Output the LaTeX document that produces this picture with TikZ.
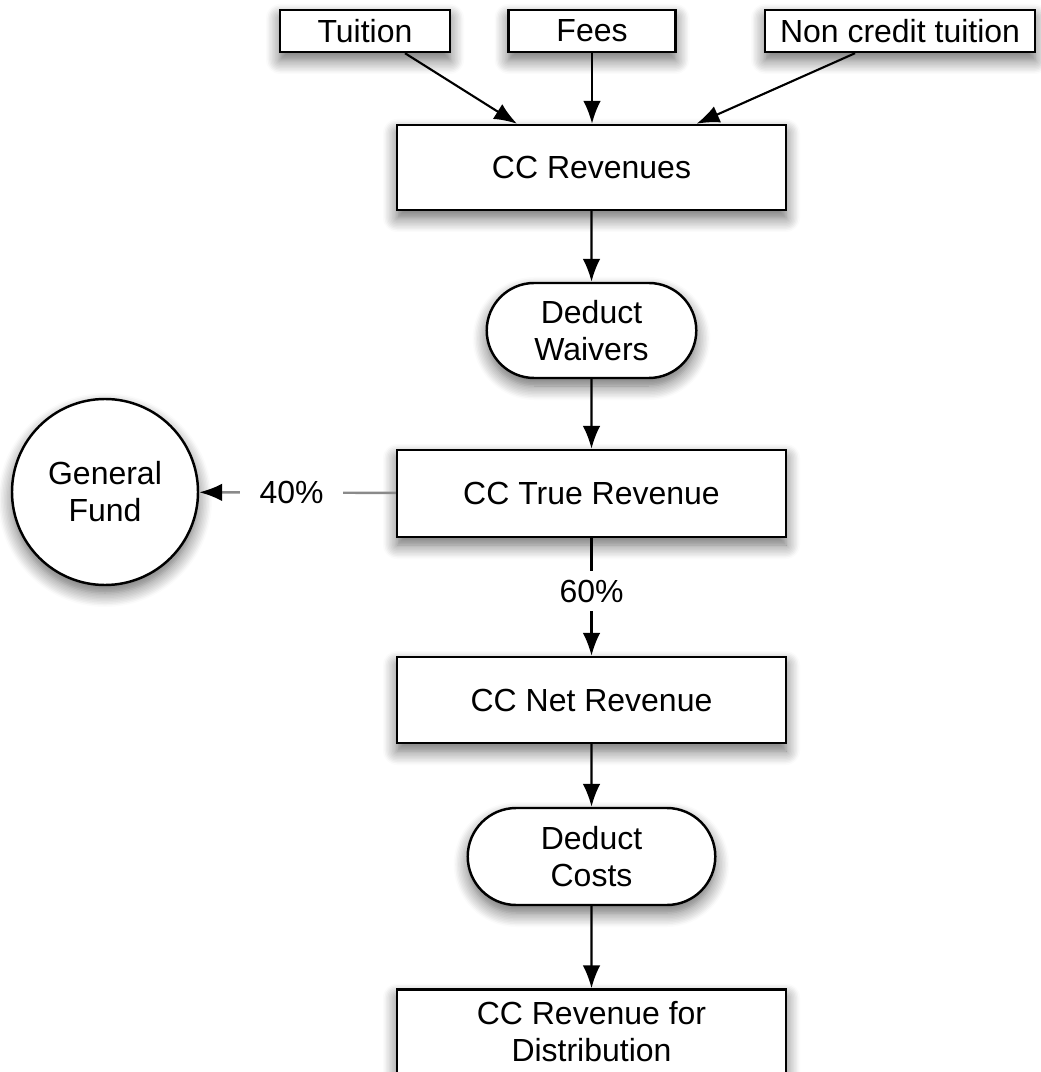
\documentclass[tikz,border=0pt]{standalone}
\usepackage{fontspec}
\setmainfont{Liberation Sans}
\usepackage{tikz}
\usetikzlibrary{arrows.meta, positioning, calc, shapes.misc, shadows.blur}
\definecolor{linegray}{HTML}{8A8A8A}

\begin{document}
\begin{tikzpicture}[
  shade/.style={blur shadow={shadow xshift=0pt, shadow yshift=-0.8mm,
    shadow blur radius=1.4mm, shadow blur steps=10, shadow opacity=60}},
  src/.style={draw, fill=white, shade, minimum height=0.42cm, inner sep=1pt,
    font=\fontsize{9.1}{10.5}\selectfont, line width=0.7pt},
  box/.style={draw, fill=white, shade, minimum width=3.89cm,
    minimum height=0.85cm, align=center,
    font=\fontsize{9.1}{10.5}\selectfont, line width=0.7pt},
  proc/.style={rounded rectangle, draw, fill=white, shade, align=center,
    font=\fontsize{9.1}{10.5}\selectfont, line width=0.7pt},
  arr/.style={-{Latex[length=6.5pt, width=5pt]}, line width=0.6pt},
  pct/.style={fill=white, font=\fontsize{9.1}{10.5}\selectfont}
]
  \useasboundingbox (0, 0) rectangle (10.40, -10.72);

  % Sources
  \node[src, minimum width=1.70cm] (tuition) at (3.65, -0.31) {Tuition};
  \node[src, minimum width=1.67cm] (fees) at (5.92, -0.31) {Fees};
  \node[src, minimum width=2.70cm] (noncredit) at (9.00, -0.31)
    {Non credit tuition};

  % Main chain
  \node[box] (revenues) at (5.915, -1.675) {CC Revenues};
  \node[proc, minimum width=2.33cm, minimum height=0.95cm] (waivers)
    at (5.915, -3.305) {Deduct\\Waivers};
  \node[box, minimum height=0.87cm] (truerev) at (5.915, -4.935)
    {CC True Revenue};
  \node[box, minimum height=0.86cm] (netrev) at (5.915, -7.00)
    {CC Net Revenue};
  \node[proc, minimum width=2.71cm, minimum height=0.97cm] (costs)
    at (5.915, -8.565) {Deduct\\Costs};
  \node[box] (distrib) at (5.915, -10.32) {CC Revenue for\\Distribution};

  % General fund
  \node[circle, draw, fill=white, shade, minimum size=1.86cm, align=center,
    font=\fontsize{9.1}{10.5}\selectfont, line width=0.7pt] (gfund)
    at (1.05, -4.92) {General\\Fund};

  % Arrows
  \draw[arr] ([xshift=4mm]tuition.south) -- ([xshift=-7.45mm]revenues.north);
  \draw[arr] (fees.south) -- (fees.south |- revenues.north);
  \draw[arr] ([xshift=-4.5mm]noncredit.south) -- ([xshift=10.5mm]revenues.north);
  \draw[arr] (revenues) -- (waivers);
  \draw[arr] (waivers) -- (truerev);
  \draw[arr] (truerev) -- node[pct, inner sep=2.5pt, pos=0.45] {60\%} (netrev);
  \draw[arr] (netrev) -- (costs);
  \draw[arr] (costs) -- (distrib);
  \draw[-{Latex[length=6.5pt, width=5pt, black]}, linegray, line width=0.7pt]
    (truerev) -- node[pct, text=black, inner xsep=5.5pt, pos=0.53] {40\%}
    (gfund);
\end{tikzpicture}
\end{document}
